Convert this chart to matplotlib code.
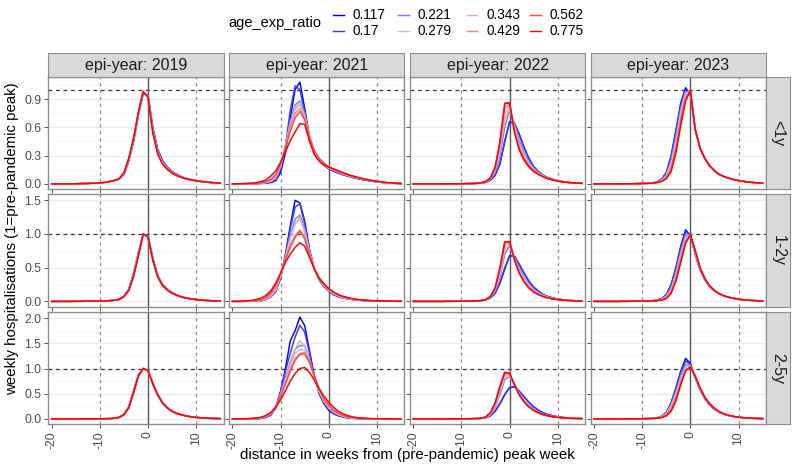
import matplotlib
matplotlib.use("Agg")
import matplotlib.pyplot as plt
from matplotlib.lines import Line2D
import numpy as np

plt.rcParams['font.family'] = ['Liberation Sans', 'DejaVu Sans']

# weeks relative to the pre-pandemic peak week
WEEKS = list(range(-20, 16))

RATIO_LABELS = ["0.117", "0.17", "0.221", "0.279", "0.343", "0.429", "0.562", "0.775"]
COLOURS = ["#0000FF", "#3A3AFF", "#7C7CF0", "#BEBEDC", "#D8B3B3", "#EC8A8A", "#FF4545", "#FF0000"]

YEARS = [2019, 2021, 2022, 2023]
AGES = ["<1y", "1-2y", "2-5y"]

# y ticks per age row (free y scale per row)
YTICKS = [[0.0, 0.3, 0.6, 0.9], [0.0, 0.5, 1.0, 1.5], [0.0, 0.5, 1.0, 1.5, 2.0]]
YMINOR = [[0.15, 0.45, 0.75, 1.05], [0.25, 0.75, 1.25], [0.25, 0.75, 1.25, 1.75]]
YLIMS = [(-0.054, 1.134), (-0.076, 1.586), (-0.101, 2.121)]

# ---- weekly hospitalisations, one list per age_exp_ratio (same order as RATIO_LABELS)
y2019_lt1 = [
    [0, 0, 0, 0, 0, .002, .003, .004, .006, .008, .011, .016, .024, .036, .05, .10, .24, .45, .73, .96, .94, .60, .37, .25, .18, .13, .10, .075, .058, .045, .035, .027, .02, .015, .011, .008],
    [0, 0, 0, 0, 0, .002, .003, .004, .006, .008, .011, .016, .024, .036, .05, .10, .25, .46, .74, .96, .94, .59, .36, .245, .178, .13, .098, .074, .057, .044, .035, .027, .02, .015, .011, .008],
    [0, 0, 0, 0, 0, .002, .003, .004, .006, .008, .011, .016, .024, .036, .052, .105, .25, .46, .74, .97, .93, .58, .35, .235, .17, .125, .095, .072, .056, .044, .034, .026, .02, .015, .011, .008],
    [0, 0, 0, 0, 0, .002, .003, .004, .006, .008, .011, .016, .024, .036, .053, .11, .26, .47, .75, .97, .93, .57, .34, .23, .165, .122, .093, .071, .055, .043, .034, .026, .02, .015, .011, .008],
    [0, 0, 0, 0, 0, .002, .003, .004, .006, .008, .011, .016, .024, .036, .054, .11, .26, .47, .75, .98, .93, .56, .335, .225, .162, .12, .091, .07, .054, .043, .034, .026, .02, .015, .011, .008],
    [0, 0, 0, 0, 0, .002, .003, .004, .006, .008, .011, .016, .024, .036, .055, .115, .265, .475, .755, .98, .925, .555, .33, .22, .16, .118, .09, .069, .054, .042, .034, .026, .02, .015, .011, .008],
    [0, 0, 0, 0, 0, .002, .003, .004, .006, .008, .011, .016, .024, .036, .055, .115, .27, .48, .76, .98, .92, .55, .325, .215, .157, .116, .089, .068, .053, .042, .034, .026, .02, .015, .011, .008],
    [0, 0, 0, 0, 0, .002, .003, .004, .006, .008, .011, .016, .024, .036, .056, .12, .27, .48, .76, .98, .92, .54, .32, .21, .155, .115, .088, .068, .053, .042, .034, .026, .02, .015, .011, .008],
]
y2019_1to2 = [
    [0, 0, 0, 0, 0, .001, .001, .002, .003, .004, .005, .007, .011, .018, .032, .08, .18, .41, .72, .99, .97, .64, .39, .255, .18, .13, .095, .07, .05, .037, .027, .02, .014, .01, .007, .005],
    [0, 0, 0, 0, 0, .001, .001, .002, .003, .004, .005, .007, .011, .018, .031, .078, .175, .40, .71, .99, .97, .635, .385, .25, .178, .128, .094, .069, .05, .036, .027, .02, .014, .01, .007, .005],
    [0, 0, 0, 0, 0, .001, .001, .002, .003, .004, .005, .007, .01, .017, .03, .076, .17, .395, .70, 1.0, .965, .63, .38, .248, .176, .126, .093, .068, .049, .036, .026, .019, .014, .01, .007, .005],
    [0, 0, 0, 0, 0, .001, .001, .002, .003, .004, .005, .007, .01, .017, .029, .074, .168, .39, .695, 1.0, .965, .625, .378, .245, .174, .125, .092, .067, .049, .036, .026, .019, .014, .01, .007, .005],
    [0, 0, 0, 0, 0, .001, .001, .002, .003, .004, .005, .007, .01, .016, .029, .072, .165, .385, .69, 1.0, .96, .62, .375, .243, .172, .123, .091, .066, .048, .035, .026, .019, .014, .01, .007, .005],
    [0, 0, 0, 0, 0, .001, .001, .002, .003, .004, .005, .007, .01, .016, .028, .071, .162, .38, .685, 1.0, .96, .62, .372, .24, .17, .122, .09, .065, .048, .035, .026, .019, .014, .01, .007, .005],
    [0, 0, 0, 0, 0, .001, .001, .002, .003, .004, .005, .007, .01, .016, .028, .07, .16, .375, .68, 1.0, .955, .615, .37, .238, .17, .121, .09, .065, .048, .035, .026, .019, .014, .01, .007, .005],
    [0, 0, 0, 0, 0, .001, .001, .002, .003, .004, .005, .007, .01, .016, .028, .07, .16, .37, .67, 1.0, .955, .61, .365, .235, .168, .12, .089, .064, .047, .035, .026, .019, .014, .01, .007, .005],
]
y2019_2to5 = [
    [0, 0, 0, 0, 0, 0, .001, .001, .002, .002, .003, .004, .006, .013, .033, .09, .24, .55, .87, 1.0, .96, .71, .49, .33, .225, .155, .11, .08, .058, .042, .03, .022, .016, .012, .008, .006],
    [0, 0, 0, 0, 0, 0, .001, .001, .002, .002, .003, .004, .006, .013, .032, .088, .235, .545, .865, 1.0, .96, .705, .485, .325, .222, .153, .11, .08, .058, .042, .03, .022, .016, .012, .008, .006],
    [0, 0, 0, 0, 0, 0, .001, .001, .002, .002, .003, .004, .006, .013, .031, .086, .23, .54, .86, 1.0, .96, .70, .48, .322, .22, .152, .11, .08, .058, .042, .03, .022, .016, .012, .008, .006],
    [0, 0, 0, 0, 0, 0, .001, .001, .002, .002, .003, .004, .005, .012, .031, .084, .228, .535, .858, 1.0, .96, .70, .48, .32, .22, .15, .11, .08, .058, .042, .03, .022, .016, .012, .008, .006],
    [0, 0, 0, 0, 0, 0, .001, .001, .002, .002, .003, .004, .005, .012, .03, .082, .225, .53, .855, 1.0, .96, .70, .48, .32, .22, .15, .11, .08, .058, .042, .03, .022, .016, .012, .008, .006],
    [0, 0, 0, 0, 0, 0, .001, .001, .002, .002, .003, .004, .005, .012, .03, .08, .222, .525, .852, 1.0, .96, .698, .478, .318, .218, .15, .108, .079, .058, .042, .03, .022, .016, .012, .008, .006],
    [0, 0, 0, 0, 0, 0, .001, .001, .002, .002, .003, .004, .005, .012, .03, .08, .22, .52, .85, 1.0, .96, .697, .477, .317, .218, .15, .108, .079, .057, .042, .03, .022, .016, .012, .008, .006],
    [0, 0, 0, 0, 0, 0, .001, .001, .002, .002, .003, .004, .005, .012, .03, .08, .22, .52, .85, 1.0, .96, .695, .475, .315, .217, .149, .108, .079, .057, .041, .03, .022, .016, .012, .008, .006],
]

y2021_lt1 = [
    [0, 0, 0, .001, .002, .003, .005, .008, .015, .035, .12, .33, .70, 1.0, 1.08, .80, .50, .33, .25, .20, .16, .135, .115, .097, .082, .068, .056, .046, .037, .029, .022, .016, .011, .008, .005, .003],
    [0, 0, 0, .001, .002, .004, .006, .01, .02, .045, .15, .40, .78, 1.04, 1.0, .76, .48, .32, .25, .20, .16, .135, .115, .097, .082, .068, .056, .046, .037, .029, .022, .016, .011, .008, .005, .003],
    [0, 0, .001, .002, .003, .005, .008, .014, .028, .06, .18, .40, .66, .84, .88, .74, .50, .34, .26, .21, .17, .145, .125, .105, .088, .073, .06, .05, .04, .031, .023, .017, .012, .008, .005, .003],
    [0, 0, .001, .002, .003, .005, .009, .015, .03, .065, .19, .40, .64, .81, .86, .73, .50, .34, .26, .21, .17, .147, .127, .107, .09, .075, .062, .051, .041, .032, .024, .017, .012, .008, .005, .003],
    [0, 0, .001, .002, .004, .006, .01, .017, .033, .07, .20, .40, .62, .79, .84, .72, .50, .35, .27, .21, .17, .148, .128, .108, .091, .076, .063, .052, .042, .033, .025, .018, .013, .009, .006, .004],
    [0, .001, .001, .002, .004, .007, .011, .02, .04, .08, .21, .40, .60, .75, .80, .70, .50, .35, .27, .22, .175, .15, .13, .11, .093, .078, .064, .053, .043, .034, .026, .019, .013, .009, .006, .004],
    [0, .001, .002, .003, .005, .008, .013, .025, .05, .10, .22, .38, .56, .70, .77, .68, .49, .35, .27, .22, .177, .153, .133, .113, .096, .08, .066, .054, .044, .035, .027, .02, .014, .01, .007, .004],
    [.001, .002, .003, .005, .008, .013, .025, .045, .085, .14, .23, .34, .46, .55, .64, .63, .45, .31, .24, .20, .18, .16, .14, .12, .10, .085, .07, .058, .047, .037, .028, .021, .015, .011, .007, .005],
]
y2021_1to2 = [
    [0, 0, 0, .001, .002, .004, .008, .03, .07, .15, .35, .70, 1.12, 1.50, 1.46, 1.19, .77, .48, .32, .22, .15, .10, .07, .05, .037, .027, .019, .014, .01, .007, .005, .004, .003, .002, .001, .001],
    [0, 0, 0, .001, .002, .004, .008, .03, .07, .15, .34, .68, 1.08, 1.40, 1.45, 1.15, .76, .48, .32, .22, .15, .10, .07, .05, .037, .027, .019, .014, .01, .007, .005, .004, .003, .002, .001, .001],
    [0, 0, .001, .002, .004, .007, .012, .035, .08, .17, .37, .66, .98, 1.22, 1.28, 1.08, .74, .48, .33, .23, .16, .11, .078, .055, .04, .029, .021, .015, .011, .008, .006, .004, .003, .002, .001, .001],
    [0, 0, .001, .002, .004, .007, .012, .035, .08, .17, .38, .65, .94, 1.16, 1.22, 1.05, .73, .48, .33, .24, .165, .115, .08, .057, .042, .03, .022, .016, .011, .008, .006, .004, .003, .002, .001, .001],
    [0, 0, .001, .002, .004, .008, .015, .04, .09, .18, .38, .64, .93, 1.14, 1.25, 1.02, .72, .48, .34, .24, .17, .12, .085, .06, .044, .032, .023, .017, .012, .009, .006, .005, .003, .002, .002, .001],
    [0, .001, .002, .003, .006, .01, .02, .05, .11, .21, .40, .62, .84, .98, 1.06, .95, .70, .48, .34, .25, .18, .13, .09, .065, .047, .034, .025, .018, .013, .009, .007, .005, .004, .003, .002, .001],
    [0, .001, .002, .004, .007, .012, .025, .06, .13, .24, .42, .62, .80, .95, 1.04, .93, .69, .48, .35, .26, .185, .135, .095, .07, .05, .036, .026, .019, .014, .01, .007, .005, .004, .003, .002, .001],
    [.001, .002, .004, .008, .015, .03, .05, .09, .16, .27, .42, .58, .70, .80, .87, .82, .65, .48, .34, .26, .19, .14, .10, .075, .055, .04, .03, .022, .016, .012, .009, .007, .005, .003, .002, .001],
]
y2021_2to5 = [
    [0, 0, 0, .001, .002, .004, .01, .03, .08, .22, .55, 1.0, 1.55, 1.75, 2.02, 1.85, 1.35, .85, .50, .30, .17, .10, .06, .035, .02, .012, .007, .004, .003, .002, .001, .001, 0, 0, 0, 0],
    [0, 0, 0, .001, .002, .005, .012, .035, .09, .24, .55, .95, 1.30, 1.62, 1.86, 1.72, 1.30, .85, .52, .32, .19, .11, .065, .04, .024, .014, .008, .005, .003, .002, .001, .001, 0, 0, 0, 0],
    [0, 0, .001, .002, .004, .008, .018, .045, .10, .24, .50, .82, 1.12, 1.38, 1.46, 1.45, 1.18, .82, .54, .34, .21, .13, .08, .05, .03, .018, .011, .007, .004, .003, .002, .001, .001, 0, 0, 0],
    [0, 0, .001, .002, .004, .009, .02, .05, .11, .24, .48, .78, 1.06, 1.30, 1.38, 1.36, 1.14, .82, .55, .35, .22, .14, .085, .053, .032, .02, .012, .007, .005, .003, .002, .001, .001, 0, 0, 0],
    [0, 0, .001, .002, .004, .009, .02, .05, .11, .23, .46, .76, 1.08, 1.38, 1.55, 1.45, 1.16, .82, .55, .36, .23, .145, .09, .056, .034, .021, .013, .008, .005, .003, .002, .001, .001, 0, 0, 0],
    [0, .001, .001, .003, .006, .012, .025, .055, .12, .24, .46, .72, .98, 1.20, 1.30, 1.32, 1.12, .84, .58, .38, .25, .16, .10, .063, .039, .024, .015, .009, .006, .004, .002, .002, .001, .001, 0, 0],
    [0, .001, .002, .004, .008, .015, .03, .065, .13, .25, .45, .70, .94, 1.16, 1.28, 1.29, 1.12, .86, .60, .40, .27, .175, .11, .07, .044, .027, .017, .01, .006, .004, .003, .002, .001, .001, 0, 0],
    [.001, .002, .003, .005, .009, .02, .035, .07, .13, .23, .38, .56, .75, .90, 1.00, 1.02, .92, .77, .60, .45, .33, .23, .15, .10, .065, .04, .025, .015, .01, .006, .004, .003, .002, .001, .001, 0],
]

y2022_lt1 = [
    [0, 0, 0, 0, 0, 0, 0, .001, .001, .002, .002, .003, .004, .005, .008, .015, .04, .09, .21, .45, .66, .64, .53, .39, .27, .18, .13, .09, .065, .048, .035, .025, .018, .012, .008, .006],
    [0, 0, 0, 0, 0, 0, 0, .001, .001, .002, .002, .003, .004, .005, .008, .016, .042, .095, .22, .46, .65, .65, .52, .38, .27, .185, .13, .09, .065, .048, .035, .025, .018, .012, .008, .006],
    [0, 0, 0, 0, 0, 0, 0, .001, .001, .002, .002, .003, .004, .006, .009, .018, .05, .12, .30, .60, .78, .64, .46, .33, .235, .165, .12, .085, .062, .046, .033, .024, .017, .012, .009, .006],
    [0, 0, 0, 0, 0, 0, 0, .001, .001, .002, .002, .003, .004, .006, .01, .02, .055, .14, .35, .68, .80, .61, .43, .31, .22, .16, .115, .082, .06, .045, .032, .023, .017, .012, .009, .006],
    [0, 0, 0, 0, 0, 0, 0, .001, .001, .002, .002, .003, .004, .006, .01, .02, .058, .15, .38, .74, .82, .59, .41, .29, .21, .152, .11, .08, .058, .044, .031, .023, .016, .012, .009, .006],
    [0, 0, 0, 0, 0, 0, 0, .001, .001, .002, .002, .003, .004, .006, .01, .022, .06, .16, .41, .80, .85, .57, .39, .28, .20, .145, .106, .077, .056, .042, .031, .022, .016, .012, .009, .006],
    [0, 0, 0, 0, 0, 0, 0, .001, .001, .002, .002, .003, .004, .006, .011, .024, .062, .17, .44, .86, .86, .56, .37, .265, .19, .14, .102, .075, .055, .041, .03, .022, .016, .012, .009, .006],
    [0, 0, 0, 0, 0, 0, 0, .001, .001, .002, .002, .003, .004, .006, .011, .025, .06, .18, .45, .85, .86, .55, .36, .25, .18, .13, .10, .075, .055, .04, .03, .022, .016, .012, .009, .006],
]
y2022_1to2 = [
    [0, 0, 0, 0, 0, 0, 0, .001, .001, .002, .002, .003, .004, .006, .009, .02, .05, .12, .27, .48, .68, .67, .55, .42, .30, .21, .15, .10, .07, .05, .035, .025, .018, .012, .008, .006],
    [0, 0, 0, 0, 0, 0, 0, .001, .001, .002, .002, .003, .004, .006, .01, .021, .052, .125, .28, .50, .67, .67, .55, .42, .30, .21, .15, .10, .07, .05, .035, .025, .018, .012, .008, .006],
    [0, 0, 0, 0, 0, 0, 0, .001, .001, .002, .002, .003, .004, .006, .01, .022, .06, .15, .36, .70, .82, .65, .49, .36, .26, .18, .13, .09, .064, .046, .033, .024, .017, .012, .008, .006],
    [0, 0, 0, 0, 0, 0, 0, .001, .001, .002, .002, .003, .004, .006, .011, .023, .063, .17, .40, .76, .84, .64, .46, .34, .24, .17, .12, .085, .06, .044, .031, .023, .016, .011, .008, .005],
    [0, 0, 0, 0, 0, 0, 0, .001, .001, .002, .002, .003, .004, .006, .011, .024, .066, .18, .44, .82, .86, .63, .44, .31, .22, .155, .11, .078, .056, .04, .029, .021, .015, .011, .007, .005],
    [0, 0, 0, 0, 0, 0, 0, .001, .001, .002, .002, .003, .004, .007, .012, .025, .068, .19, .47, .86, .87, .62, .43, .30, .21, .148, .105, .074, .053, .038, .027, .02, .014, .01, .007, .005],
    [0, 0, 0, 0, 0, 0, 0, .001, .001, .002, .002, .003, .004, .007, .012, .026, .07, .20, .50, .89, .88, .62, .42, .29, .20, .14, .10, .07, .05, .036, .026, .019, .014, .01, .007, .005],
    [0, 0, 0, 0, 0, 0, 0, .001, .001, .002, .002, .003, .004, .007, .012, .026, .07, .20, .50, .88, .89, .62, .42, .29, .20, .14, .10, .07, .05, .036, .026, .019, .014, .01, .007, .005],
]
y2022_2to5 = [
    [0, 0, 0, 0, 0, 0, 0, .001, .001, .002, .002, .003, .004, .006, .01, .02, .06, .15, .30, .48, .62, .64, .55, .44, .33, .24, .17, .12, .085, .06, .042, .03, .021, .015, .01, .007],
    [0, 0, 0, 0, 0, 0, 0, .001, .001, .002, .002, .003, .004, .006, .01, .021, .062, .155, .31, .49, .62, .63, .55, .44, .33, .24, .17, .12, .085, .06, .042, .03, .021, .015, .01, .007],
    [0, 0, 0, 0, 0, 0, 0, .001, .001, .002, .002, .003, .004, .007, .011, .025, .08, .22, .48, .78, .84, .69, .51, .37, .27, .19, .135, .095, .067, .047, .033, .024, .017, .012, .008, .006],
    [0, 0, 0, 0, 0, 0, 0, .001, .001, .002, .002, .003, .004, .007, .012, .028, .09, .25, .54, .84, .86, .68, .50, .36, .26, .18, .13, .09, .064, .045, .032, .023, .016, .011, .008, .006],
    [0, 0, 0, 0, 0, 0, 0, .001, .001, .002, .002, .003, .004, .007, .012, .03, .10, .28, .58, .88, .88, .68, .49, .35, .25, .175, .125, .088, .062, .044, .031, .022, .016, .011, .008, .006],
    [0, 0, 0, 0, 0, 0, 0, .001, .001, .002, .002, .003, .004, .007, .013, .034, .11, .30, .62, .91, .89, .68, .48, .34, .24, .17, .12, .085, .06, .043, .03, .022, .016, .011, .008, .006],
    [0, 0, 0, 0, 0, 0, 0, .001, .001, .002, .002, .003, .004, .007, .013, .036, .115, .31, .64, .93, .90, .68, .48, .34, .24, .17, .12, .085, .06, .043, .03, .022, .016, .011, .008, .006],
    [0, 0, 0, 0, 0, 0, 0, .001, .001, .002, .002, .003, .004, .007, .013, .038, .12, .32, .65, .92, .91, .68, .48, .34, .24, .17, .12, .085, .06, .043, .03, .022, .016, .011, .008, .006],
]

y2023_lt1 = [
    [0, 0, 0, 0, 0, 0, .001, .001, .002, .003, .005, .007, .011, .02, .05, .12, .30, .57, .86, 1.02, .95, .58, .38, .27, .195, .14, .10, .078, .06, .046, .035, .027, .02, .015, .011, .008],
    [0, 0, 0, 0, 0, 0, .001, .001, .002, .003, .005, .007, .011, .02, .048, .115, .29, .55, .84, 1.0, .96, .58, .38, .27, .195, .14, .10, .078, .06, .046, .035, .027, .02, .015, .011, .008],
    [0, 0, 0, 0, 0, 0, .001, .001, .002, .003, .004, .006, .01, .018, .042, .10, .25, .50, .80, .98, .97, .58, .38, .27, .19, .14, .10, .077, .06, .046, .035, .027, .02, .015, .011, .008],
    [0, 0, 0, 0, 0, 0, .001, .001, .002, .003, .004, .006, .009, .016, .036, .085, .22, .46, .76, .96, .98, .58, .38, .27, .19, .14, .10, .077, .06, .046, .035, .027, .02, .015, .011, .008],
    [0, 0, 0, 0, 0, 0, .001, .001, .002, .003, .004, .006, .009, .015, .033, .075, .19, .42, .72, .94, .98, .58, .38, .27, .19, .14, .10, .077, .06, .046, .035, .027, .02, .015, .011, .008],
    [0, 0, 0, 0, 0, 0, .001, .001, .002, .003, .004, .005, .008, .014, .03, .066, .17, .39, .69, .92, .99, .58, .38, .27, .19, .14, .10, .077, .06, .046, .035, .027, .02, .015, .011, .008],
    [0, 0, 0, 0, 0, 0, .001, .001, .002, .003, .004, .005, .008, .014, .028, .06, .15, .36, .66, .90, .99, .58, .38, .27, .19, .14, .10, .077, .06, .046, .035, .027, .02, .015, .011, .008],
    [0, 0, 0, 0, 0, 0, .001, .001, .002, .003, .004, .005, .008, .013, .027, .055, .13, .33, .62, .88, .99, .58, .38, .27, .19, .14, .10, .077, .06, .046, .035, .027, .02, .015, .011, .008],
]
y2023_1to2 = [
    [0, 0, 0, 0, 0, 0, .001, .001, .002, .003, .004, .006, .01, .018, .04, .10, .25, .50, .82, 1.06, .98, .70, .47, .32, .22, .16, .11, .08, .06, .045, .033, .024, .018, .013, .009, .006],
    [0, 0, 0, 0, 0, 0, .001, .001, .002, .003, .004, .006, .01, .017, .038, .095, .24, .49, .80, 1.03, .99, .71, .47, .32, .22, .16, .11, .08, .06, .045, .033, .024, .018, .013, .009, .006],
    [0, 0, 0, 0, 0, 0, .001, .001, .002, .003, .004, .006, .009, .015, .032, .08, .20, .43, .74, .98, .99, .72, .48, .33, .225, .16, .112, .081, .06, .045, .033, .024, .018, .013, .009, .006],
    [0, 0, 0, 0, 0, 0, .001, .001, .002, .003, .004, .005, .008, .014, .028, .07, .18, .40, .70, .95, .99, .73, .48, .33, .225, .16, .112, .081, .06, .045, .033, .024, .018, .013, .009, .006],
    [0, 0, 0, 0, 0, 0, .001, .001, .002, .003, .003, .005, .008, .013, .025, .062, .16, .37, .67, .92, .99, .74, .49, .335, .228, .16, .113, .082, .06, .045, .033, .024, .018, .013, .009, .006],
    [0, 0, 0, 0, 0, 0, .001, .001, .002, .003, .003, .005, .007, .012, .022, .055, .14, .34, .63, .90, .99, .75, .49, .335, .228, .16, .114, .082, .06, .045, .033, .024, .018, .013, .009, .006],
    [0, 0, 0, 0, 0, 0, .001, .001, .002, .003, .003, .004, .007, .011, .02, .045, .13, .32, .60, .88, .99, .75, .50, .34, .23, .16, .115, .083, .06, .045, .033, .024, .018, .013, .009, .006],
    [0, 0, 0, 0, 0, 0, .001, .001, .002, .003, .003, .004, .006, .01, .018, .04, .12, .30, .58, .86, .99, .76, .50, .34, .23, .16, .115, .083, .06, .045, .033, .024, .018, .013, .009, .006],
]
y2023_2to5 = [
    [0, 0, 0, 0, 0, 0, .001, .001, .002, .003, .005, .008, .012, .02, .05, .13, .32, .62, .95, 1.20, 1.10, .82, .58, .40, .28, .19, .13, .09, .065, .046, .033, .024, .017, .012, .009, .006],
    [0, 0, 0, 0, 0, 0, .001, .001, .002, .003, .005, .008, .012, .02, .048, .125, .31, .60, .92, 1.15, 1.08, .82, .58, .40, .28, .19, .13, .09, .065, .046, .033, .024, .017, .012, .009, .006],
    [0, 0, 0, 0, 0, 0, .001, .001, .002, .003, .004, .007, .011, .018, .042, .11, .28, .55, .86, 1.08, 1.06, .83, .59, .41, .285, .195, .135, .093, .067, .047, .034, .025, .018, .013, .009, .006],
    [0, 0, 0, 0, 0, 0, .001, .001, .002, .003, .004, .006, .01, .017, .038, .10, .26, .50, .80, 1.03, 1.05, .84, .60, .41, .29, .20, .138, .095, .068, .048, .034, .025, .018, .013, .009, .006],
    [0, 0, 0, 0, 0, 0, .001, .001, .002, .003, .004, .006, .01, .016, .035, .09, .23, .46, .76, 1.0, 1.04, .84, .60, .42, .29, .20, .14, .097, .069, .048, .034, .025, .018, .013, .009, .006],
    [0, 0, 0, 0, 0, 0, .001, .001, .002, .003, .004, .006, .009, .015, .032, .08, .20, .42, .72, .98, 1.03, .85, .61, .42, .295, .205, .142, .098, .07, .049, .034, .025, .018, .013, .009, .006],
    [0, 0, 0, 0, 0, 0, .001, .001, .002, .003, .003, .005, .008, .014, .03, .07, .17, .39, .70, .96, 1.03, .85, .62, .43, .30, .21, .145, .10, .07, .049, .034, .025, .018, .013, .009, .006],
    [0, 0, 0, 0, 0, 0, .001, .001, .002, .003, .003, .005, .008, .013, .025, .06, .15, .36, .68, .95, 1.03, .85, .62, .43, .30, .21, .145, .10, .07, .049, .034, .025, .018, .013, .009, .006],
]

PANELS = [
    [y2019_lt1, y2021_lt1, y2022_lt1, y2023_lt1],
    [y2019_1to2, y2021_1to2, y2022_1to2, y2023_1to2],
    [y2019_2to5, y2021_2to5, y2022_2to5, y2023_2to5],
]

# ---- layout in pixels (800 x 473 canvas)
W, H = 800, 473
COL_LEFT = [48.3, 229.1, 409.9, 590.7]
PANEL_W = 175.3
ROW_TOP = [77.0, 194.5, 312.0]
PANEL_H = 112.0
STRIP_H = 24.0
STRIP_W = 24.0

BORDER = "#8C8C8C"
STRIP_FILL = "#D9D9D9"
TICK_TXT = "#4D4D4D"


def px_axes(fig, left, top, width, height):
    return fig.add_axes([left / W, 1 - (top + height) / H, width / W, height / H])


fig = plt.figure(figsize=(W / 100, H / 100), dpi=100)
fig.patch.set_facecolor("white")

for r, age in enumerate(AGES):
    for c, year in enumerate(YEARS):
        ax = px_axes(fig, COL_LEFT[c], ROW_TOP[r], PANEL_W, PANEL_H)
        for k, series in enumerate(PANELS[r][c]):
            assert len(series) == len(WEEKS)
            ax.plot(WEEKS, series, color=COLOURS[k], lw=1.05, zorder=3, solid_joinstyle="round")

        ax.axhline(1.0, color="#333333", lw=0.9, ls=(0, (3, 3)), zorder=2)
        ax.axvline(0, color="#555555", lw=1.0, zorder=2)
        for v in (-10, 10):
            ax.axvline(v, color="#8A8A8A", lw=0.9, ls=(0, (2.5, 3)), zorder=2)

        ax.set_xlim(-20.7, 15.7)
        ax.set_ylim(*YLIMS[r])
        ax.set_yticks(YTICKS[r])
        ax.set_yticks(YMINOR[r], minor=True)
        ax.set_xticks([-20, -10, 0, 10])
        ax.grid(axis="y", which="major", color="#EBEBEB", lw=0.9, zorder=0)
        ax.grid(axis="y", which="minor", color="#F4F4F4", lw=0.5, zorder=0)
        ax.set_axisbelow(True)

        for sp in ax.spines.values():
            sp.set_color(BORDER)
            sp.set_linewidth(1.0)

        ax.tick_params(which="major", length=3, width=0.6, color="#333333",
                       labelsize=8.7, labelcolor=TICK_TXT, pad=2)
        ax.tick_params(which="minor", length=0)

        if c == 0:
            ax.set_yticklabels([f"{t:.1f}" for t in YTICKS[r]])
        else:
            ax.set_yticklabels([])
        if r == len(AGES) - 1:
            ax.set_xticklabels(["-20", "-10", "0", "10"], rotation=90)
        else:
            ax.set_xticklabels([])

        # top strip (year)
        if r == 0:
            st = px_axes(fig, COL_LEFT[c], ROW_TOP[0] - STRIP_H, PANEL_W, STRIP_H)
            st.set_facecolor(STRIP_FILL)
            st.set_xticks([])
            st.set_yticks([])
            for sp in st.spines.values():
                sp.set_color(BORDER)
            st.text(0.5, 0.48, f"epi-year: {year}", ha="center", va="center",
                    fontsize=11.5, color="#1A1A1A", transform=st.transAxes)

    # right strip (age group)
    rs = px_axes(fig, COL_LEFT[-1] + PANEL_W, ROW_TOP[r], STRIP_W, PANEL_H)
    rs.set_facecolor(STRIP_FILL)
    rs.set_xticks([])
    rs.set_yticks([])
    for sp in rs.spines.values():
        sp.set_color(BORDER)
    rs.text(0.5, 0.5, age, ha="center", va="center", rotation=-90,
            fontsize=11.5, color="#1A1A1A", transform=rs.transAxes)

# axis titles
fig.text(12 / W, 1 - 238.5 / H, "weekly hospitalisations (1=pre-pandemic peak)",
         rotation=90, ha="center", va="center", fontsize=10.8, color="black")
fig.text(407 / W, 1 - 455 / H, "distance in weeks from (pre-pandemic) peak week",
         ha="center", va="center", fontsize=10.8, color="black")

# legend (4 columns x 2 rows, column-major)
fig.text(228.3 / W, 1 - 23.3 / H, "age_exp_ratio", ha="left", va="center", fontsize=10.5)
KEY_X = [333.3, 398.3, 466.7, 530.0]
ROW_Y = [15.0, 30.7]
for i, lab in enumerate(RATIO_LABELS):
    col, row = divmod(i, 2)
    yy = 1 - ROW_Y[row] / H
    fig.add_artist(Line2D([KEY_X[col] / W, (KEY_X[col] + 10.5) / W], [yy, yy],
                          color=COLOURS[i], lw=1.05, transform=fig.transFigure))
    fig.text((KEY_X[col] + 19.5) / W, yy, lab, ha="left", va="center", fontsize=9.8)

fig.savefig("out.png", dpi=100, facecolor="white")
